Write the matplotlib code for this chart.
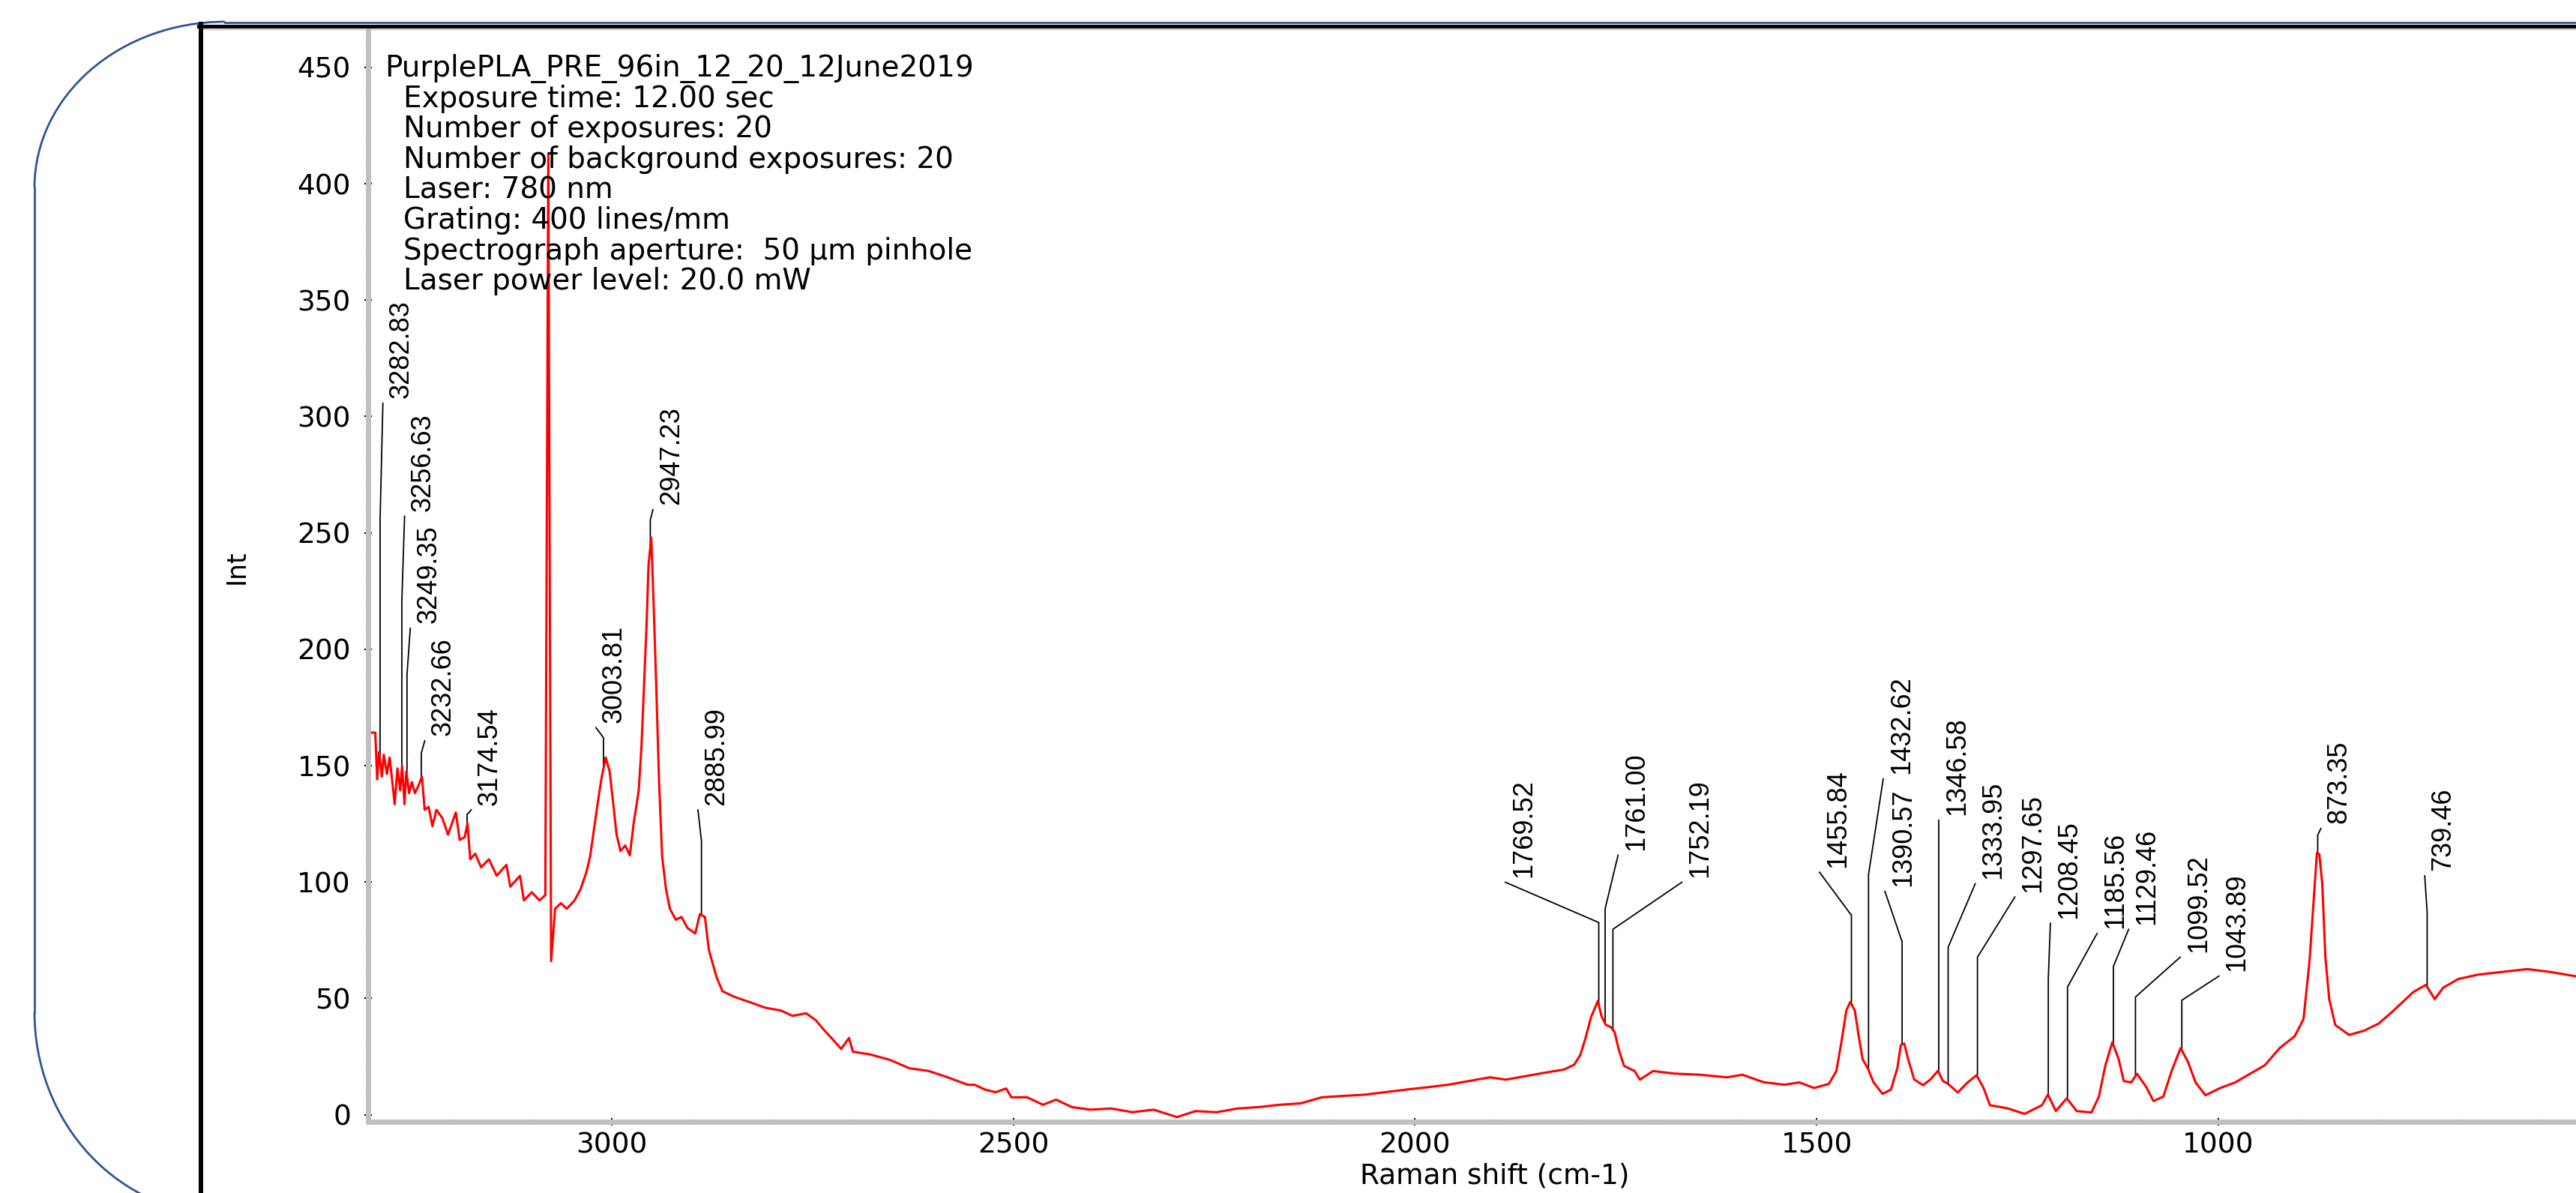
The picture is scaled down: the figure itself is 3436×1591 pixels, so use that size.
import matplotlib.pyplot as plt
import numpy as np
from matplotlib.lines import Line2D
from matplotlib.patches import Arc
from matplotlib.ticker import MultipleLocator

# Raman spectrum (cm-1, counts)
shift = [3298.3, 3294.4, 3292.0, 3289.6, 3286.2, 3283.8, 3279.9, 3276.5, 3273.1, 3270.2,
         3266.8, 3263.4, 3261.0, 3258.0, 3255.7, 3252.3, 3248.9, 3245.0, 3240.2, 3236.3,
         3232.9, 3228.0, 3223.2, 3218.3, 3211.0, 3203.8, 3194.1, 3189.3, 3183.0, 3179.6,
         3176.2, 3169.9, 3162.6, 3152.9, 3143.2, 3131.1, 3126.3, 3114.2, 3109.3, 3099.6,
         3089.9, 3082.7, 3079.0, 3075.5, 3070.5, 3063.3, 3056.0, 3046.3, 3039.0, 3031.8,
         3026.9, 3022.1, 3017.2, 3012.4, 3007.5, 3002.7, 2998.8, 2994.0, 2989.1, 2983.3,
         2977.5, 2972.7, 2966.4, 2963.0, 2960.1, 2956.7, 2954.2, 2950.8, 2947.9, 2944.5,
         2941.2, 2937.3, 2932.4, 2927.6, 2920.3, 2913.1, 2905.8, 2896.1, 2890.3, 2884.0,
         2879.1, 2874.3, 2869.4, 2862.2, 2847.6, 2828.3, 2808.9, 2789.5, 2775.0, 2758.0,
         2745.9, 2736.2, 2726.5, 2714.4, 2704.7, 2699.8, 2678.0, 2653.8, 2629.6, 2605.3,
         2581.1, 2556.9,
         2548.3, 2535.2, 2522.1, 2509.0, 2502.5, 2482.8, 2463.2, 2446.8, 2427.2, 2404.3,
         2378.1, 2351.9, 2325.7, 2296.2, 2273.3, 2247.2, 2221.0, 2194.8, 2168.6, 2142.4,
         2116.2, 2090.0, 2063.8, 2037.6, 2011.5, 1985.3, 1959.1, 1932.9, 1906.7, 1887.0,
         1860.9, 1834.7, 1815.0, 1801.9, 1794.1, 1787.5, 1781.0, 1775.7, 1772.5, 1767.9,
         1762.7, 1756.1, 1751.6, 1746.3, 1739.8, 1726.7, 1720.1, 1703.7, 1677.5, 1644.8,
         1612.0, 1592.4, 1566.2, 1540.1,
         1521.7, 1503.2, 1484.7, 1475.5, 1469.3, 1463.1, 1458.2, 1452.6, 1447.7, 1442.8,
         1436.6, 1429.2, 1418.1, 1407.6, 1399.6, 1395.3, 1391.0, 1386.1, 1378.7, 1367.6,
         1358.3, 1349.1, 1342.9, 1336.7, 1324.4, 1312.1, 1301.0, 1292.3, 1284.3, 1262.7,
         1241.2, 1219.6, 1212.2, 1202.3, 1188.7, 1176.4, 1158.0, 1148.7, 1140.6, 1132.0,
         1124.0, 1117.8, 1108.6, 1101.2, 1090.1, 1080.8, 1068.5, 1058.1, 1047.0, 1037.7,
         1028.4, 1016.1, 997.6, 979.1, 960.6, 942.1, 923.6, 905.1, 894.0, 886.6,
         881.7, 877.3, 874.3, 870.6, 866.9, 862.0, 854.5, 837.3, 818.8, 800.3,
         781.8, 757.1, 741.7, 730.6, 720.1, 701.6, 677.0, 646.1, 615.3, 587.6, 554.9]

intensity = [164.2, 164.2, 144.1, 155.9, 145.3, 154.7, 146.4, 153.5, 142.9, 133.4,
             148.8, 139.4, 150.0, 133.4, 147.6, 138.2, 142.9, 138.2, 141.7, 145.3,
             131.0, 132.3, 124.0, 131.0, 127.5, 120.4, 129.9, 118.1, 119.3, 125.2,
             109.8, 112.2, 106.3, 109.8, 102.7, 107.4, 98.0, 102.7, 92.1, 95.6,
             92.1, 94.4, 413.0, 66.0, 88.5, 90.9, 88.5, 92.1, 96.8, 103.9,
             111.0, 122.8, 134.6, 145.3, 153.5, 147.6, 135.8, 120.4, 113.3, 115.7,
             111.5, 125.2, 139.4, 158.2, 181.9, 210.2, 236.2, 248.0, 219.7, 183.1,
             144.1, 111.0, 96.8, 88.5, 83.8, 85.0, 80.3, 77.9, 86.2, 85.0,
             70.8, 64.9, 59.0, 53.1, 50.7, 48.4, 46.0, 44.8, 42.5, 43.6,
             40.6, 36.6, 33.0, 28.3, 33.0, 27.1, 25.9, 23.6, 20.0, 18.8,
             16.0, 12.9,
             12.9, 10.8, 9.7, 11.3, 7.5, 7.5, 4.3, 6.5, 3.3, 2.2,
             2.7, 1.1, 2.2, -1.0, 1.6, 1.1, 2.7, 3.3, 4.3, 4.9,
             7.5, 8.1, 8.6, 9.7, 10.8, 11.8, 12.9, 14.5, 16.1, 15.1,
             16.7, 18.3, 19.4, 21.5, 25.8, 33.3, 41.9, 46.2, 48.9, 42.4,
             38.7, 37.6, 35.5, 27.9, 21.0, 18.8, 15.1, 18.8, 17.7, 17.2,
             16.1, 17.2, 14.0, 12.9,
             13.9, 11.5, 13.3, 18.9, 31.2, 44.8, 48.5, 44.8, 33.7, 23.8,
             20.1, 13.9, 9.0, 10.8, 20.1, 30.0, 30.6, 23.8, 15.2, 12.7,
             15.2, 18.9, 14.5, 13.3, 9.6, 13.9, 17.0, 11.5, 4.1, 2.8,
             0.4, 4.1, 8.7, 1.6, 7.1, 1.6, 1.0, 7.8, 21.3, 31.2,
             23.8, 14.5, 13.9, 17.6, 12.1, 5.9, 7.8, 18.9, 28.7, 22.6,
             13.9, 8.4, 11.5, 13.9, 17.6, 21.3, 28.7, 33.7, 41.1, 65.7,
             90.4, 112.6, 111.9, 99.0, 68.2, 49.7, 38.6, 34.3, 36.1, 39.2,
             44.8, 52.8, 55.8, 49.7, 54.6, 58.3, 60.2, 61.4, 62.6, 61.4, 59.5]

# peak labels: text, leader position, kink height, label anchor
peak_lbl = ['3282.83', '3256.63', '3249.35', '3232.66', '3174.54', '3003.81', '2947.23', '2885.99',
            '1769.52', '1761.00', '1752.19', '1455.84', '1432.62', '1390.57', '1346.58', '1333.95',
            '1297.65', '1208.45', '1185.56', '1129.46', '1099.52', '1043.89', '873.35', '739.46']
lead_pos = [3288.4, 3261.3, 3254.9, 3237.1, 3180.1, 3010.3, 2952.0, 2888.3,
            1771.3, 1763.4, 1753.7, 1456.8, 1435.5, 1393.7, 1348.1, 1336.4,
            1299.9, 1211.7, 1187.8, 1130.7, 1103.2, 1045.5, 876.3, 740.1]
kink_int = [255.6, 221.0, 189.0, 155.3, 129.0, 162.0, 255.6, 117.5,
            82.6, 88.5, 79.7, 85.7, 103.2, 74.3, 126.6, 72.0,
            67.7, 58.4, 54.9, 63.7, 50.6, 49.2, 120.2, 87.1]
end_pos = [3284.9, 3257.9, 3250.8, 3232.8, 3174.9, 3019.6, 2948.7, 2892.7,
           1887.5, 1747.3, 1667.9, 1496.5, 1417.2, 1415.1, 1348.1, 1302.6,
           1253.3, 1209.1, 1151.0, 1111.7, 1047.6, 999.3, 872.4, 743.1]
end_int = [305.7, 257.2, 209.0, 160.7, 131.0, 166.3, 260.0, 131.0,
           99.9, 111.5, 99.9, 104.2, 144.3, 96.0, 126.6, 99.3,
           93.6, 82.3, 77.9, 79.7, 67.7, 59.6, 123.0, 102.7]

info_title = 'PurplePLA_PRE_96in_12_20_12June2019'
info_lines = ['Exposure time: 12.00 sec',
              'Number of exposures: 20',
              'Number of background exposures: 20',
              'Laser: 780 nm',
              'Grating: 400 lines/mm',
              'Spectrograph aperture:  50 µm pinhole',
              'Laser power level: 20.0 mW']

W, H = 3436, 1591
plt.rcParams['font.family'] = ['DejaVu Sans']
fig = plt.figure(figsize=(W / 100, H / 100), dpi=100)

def fx(x):
    return x / W

def fy(y):
    return 1 - y / H

# page decoration around the chart (blue rounded frame, black rules)
blue = '#2f5496'
fig.add_artist(Line2D([fx(300), 1], [fy(29.5), fy(29.5)], color=blue, lw=2))
fig.add_artist(Line2D([fx(46), fx(46)], [fy(250), fy(1350)], color=blue, lw=2))
fig.add_artist(Arc((fx(300), fy(250)), 2 * 254 / W, 2 * 221 / H, theta1=90, theta2=180,
                   transform=fig.transFigure, color=blue, lw=2))
fig.add_artist(Arc((fx(300), fy(1350)), 2 * 254 / W, 2 * 270 / H, theta1=180, theta2=270,
                   transform=fig.transFigure, color=blue, lw=2))
fig.add_artist(Line2D([fx(265), 1], [fy(34.8), fy(34.8)], color='black', lw=3.6))
fig.add_artist(Line2D([fx(268), 1], [fy(38.5), fy(38.5)], color='#c0c0c0', lw=1.0))
fig.add_artist(Line2D([fx(268), fx(268)], [fy(32), 0], color='black', lw=4.3))

ax = fig.add_axes([fx(491), fy(1496), 1 - fx(491), (1496 - 38) / H])
ax.set_facecolor('none')

ax.plot(shift, intensity, color='red', lw=2.2, zorder=3)

shift_a = np.array(shift)
int_a = np.array(intensity)
for lab, p, k, ex, ey in zip(peak_lbl, lead_pos, kink_int, end_pos, end_int):
    y0 = np.interp(p, shift_a[::-1], int_a[::-1])
    ax.plot([p, p, ex], [y0, k, ey], color='black', lw=1.3, zorder=2)
    ax.annotate(lab, xy=(ex, ey), xytext=(17.6, 4.7), textcoords='offset points',
                rotation=90, ha='center', va='bottom', fontsize=26,
                family=['Liberation Sans', 'DejaVu Sans'])

fig.text(fx(513), fy(102), info_title, fontsize=28, ha='left', va='baseline')
for i, line in enumerate(info_lines):
    fig.text(fx(537.7), fy(102 + 40.6 * (i + 1)), line, fontsize=28, ha='left', va='baseline')

ax.set_xlim(3303.3, 554.8)
ax.set_ylim(-3, 466.7)

for s in ['top', 'right']:
    ax.spines[s].set_visible(False)
for s in ['left', 'bottom']:
    ax.spines[s].set_color('#c0c0c0')
    ax.spines[s].set_linewidth(5)

ax.xaxis.set_major_locator(MultipleLocator(500))
ax.xaxis.set_minor_locator(MultipleLocator(100))
ax.yaxis.set_major_locator(MultipleLocator(50))
ax.yaxis.set_minor_locator(MultipleLocator(10))
ax.tick_params(which='major', direction='inout', length=7.2, width=1.4, color='black', labelsize=27)
ax.tick_params(which='minor', direction='inout', length=4, width=1.4, color='black')
ax.tick_params(axis='y', which='major', pad=13)
ax.tick_params(axis='x', which='major', pad=6.4)

ax.set_xlabel('Raman shift (cm-1)', fontsize=27, va='top')
ax.xaxis.set_label_coords((1994 - 491) / (W - 491), (1496 - 1551) / (1496 - 38))
ax.set_ylabel('Int', fontsize=25)
ax.yaxis.set_label_coords((333 - 491) / (W - 491), (1496 - 756) / (1496 - 38))

plt.savefig('out.png', dpi=100)
